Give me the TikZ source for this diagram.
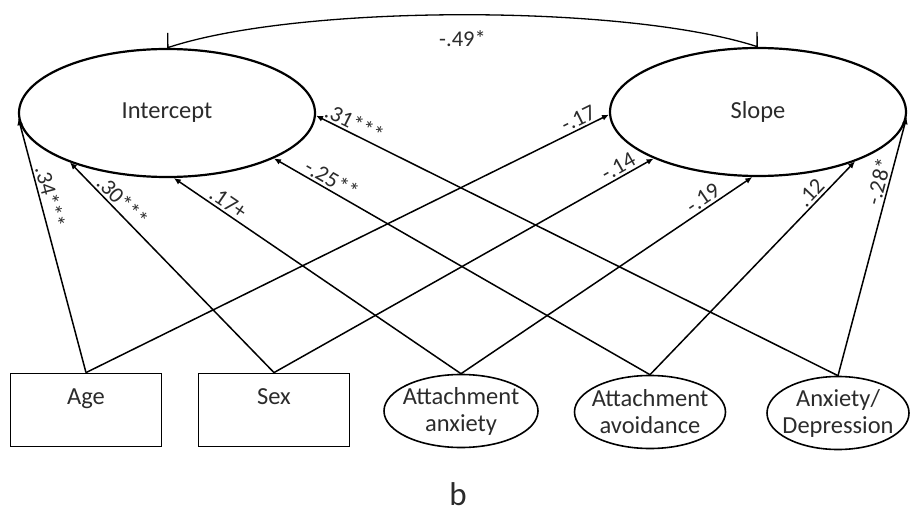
\documentclass[tikz,border=0pt]{standalone}
\usepackage{fontspec}
\setmainfont{Carlito}
\usepackage{tikz}
\usetikzlibrary{positioning,arrows.meta,shapes.geometric}
\definecolor{textgray}{HTML}{2B2B2B}
\tikzset{
  latent/.style={
    ellipse, draw, line width=2.2pt,
    minimum width=296pt, minimum height=128pt,
    text=textgray, font=\fontsize{24.5}{28}\selectfont
  },
  cov/.style={
    ellipse, draw, line width=1.6pt, inner sep=0pt,
    minimum width=#1, minimum height=73pt
  },
  obsbox/.style={
    rectangle, draw, line width=1.8pt,
    minimum width=151pt, minimum height=73pt, text depth=26pt,
    text=textgray, font=\fontsize{24.5}{28}\selectfont
  },
  covtext/.style={
    align=center, text=textgray, font=\fontsize{24.5}{27}\selectfont
  },
  arr/.style={
    -{Latex[length=7pt,width=6pt]}, line width=1.5pt
  },
  corr/.style={
    {Straight Barb[harpoon,swap,length=4.6pt,width=28pt]}-{Straight Barb[harpoon,length=4.6pt,width=28pt]},
    line width=1.3pt
  },
  coef/.style={
    sloped, above, inner sep=2pt, text=textgray,
    font=\fontsize{22.5}{25}\selectfont
  }
}

\begin{document}
\begin{tikzpicture}[x=1pt,y=-1pt]
\useasboundingbox (0,0) rectangle (910,513);

% nodos
\node[latent] (int) at (167,113) {Intercept};
\node[latent] (slope) at (758,112) {Slope};

\node[obsbox] (age) at (86,410) {Age};
\node[obsbox] (sex) at (274,410) {Sex};
\node[cov=154pt, label={[covtext]center:Attachment\\anxiety}] (attanx) at (461,411) {};
\node[cov=151pt, label={[covtext]center:Attachment\\avoidance}] (attavo) at (650,412) {};
\node[cov=142pt, label={[covtext]center:Anxiety/\\Depression}] (anxdep) at (838,413) {};

\node[text=textgray, font=\fontsize{33}{36}\selectfont] (panel) at (458,494) {b};

% covarianza
\draw[corr] (int.north) .. controls (300,4) and (625,4) .. (slope.north)
  node[pos=.5, below=12pt, text=textgray, font=\fontsize{22.5}{25}\selectfont] (rho) {-.49*};

% aristas
\draw[arr] (age.north) -- node[coef, pos=.68] {.34***} (int.182);
\draw[arr] (sex.north) -- node[coef, pos=.78] {.30***} (int.207);
\draw[arr] (attanx.north) -- node[coef, pos=.83] {.17+} (int.276);
\draw[arr] (attavo.north) -- node[coef, pos=.86] {-.25**} (int.337);
\draw[arr] (anxdep.north) -- node[coef, pos=.935] {.31***} (int.359);

\draw[arr] (age.north) -- node[coef, pos=.95] {-.17} (slope.181);
\draw[arr] (sex.north) -- node[coef, pos=.92] {-.14} (slope.204);
\draw[arr] (attanx.north) -- node[coef, pos=.85] {-.19} (slope.265);
\draw[arr] (attavo.north) -- node[coef, pos=.82] {.12} (slope.333);
\draw[arr] (anxdep.north) -- node[coef, pos=.74] {-.28*} (slope.358);
\end{tikzpicture}
\end{document}
